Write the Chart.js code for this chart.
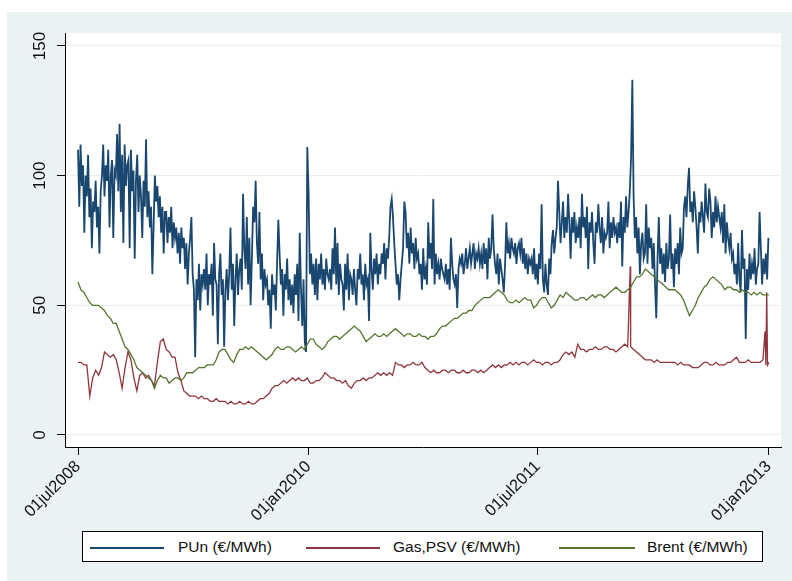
<!DOCTYPE html>
<html>
<head>
<meta charset="utf-8">
<script src="https://cdn.jsdelivr.net/npm/chart.js@4.4.1/dist/chart.umd.min.js"></script>
<style>
  html, body { margin: 0; padding: 0; background: #fff; }
  #wrap { position: relative; width: 792px; height: 581px; overflow: hidden; }
  #chart { position: absolute; left: 0; top: 0; }
  #legend { position: absolute; left: 82px; top: 531px; width: 681px; height: 31px; box-sizing: border-box;
            border: 1px solid #000; background: #fff; font-family: "Liberation Sans", Arial, sans-serif;
            font-size: 15.5px; color: #111; }
  .key { position: absolute; top: 15px; height: 1.5px; }
  .lab { position: absolute; top: 6px; line-height: 18px; white-space: nowrap; }
</style>
</head>
<body>
<div id="wrap">
  <canvas id="chart" width="792" height="581"></canvas>
  <div id="legend">
    <div class="key" style="left:7px;width:74px;background:#1a476f"></div>
    <div class="lab" style="left:95px">PUn (€/MWh)</div>
    <div class="key" style="left:223px;width:74px;background:#90353b"></div>
    <div class="lab" style="left:310px">Gas,PSV (€/MWh)</div>
    <div class="key" style="left:476px;width:76px;background:#55752f"></div>
    <div class="lab" style="left:564px">Brent (€/MWh)</div>
  </div>
</div>
<script>
// x = days since 01jul2008
const xTickDays = [0, 549, 1095, 1645];
const xTickLabels = ['01jul2008', '01jan2010', '01jul2011', '01jan2013'];
const yTicks = [0, 50, 100, 150];

// PUn, one value every 3 days
const punStep = 3;
const pun = [
  110, 88, 112, 96, 104, 78, 100, 92, 108, 84,
  95, 72, 90, 86, 98, 80, 88, 70, 94, 100,
  112, 92, 104, 98, 110, 80, 100, 106, 76, 102,
  100, 116, 94, 120, 86, 108, 74, 112, 96, 104,
  106, 72, 110, 94, 102, 68, 98, 108, 86, 100,
  92, 76, 98, 88, 114, 84, 94, 80, 88, 62,
  80, 100, 90, 96, 84, 92, 78, 88, 70, 86,
  86, 74, 84, 78, 88, 72, 82, 76, 80, 70,
  78, 66, 80, 72, 76, 64, 74, 58, 70, 76,
  84, 62, 56, 30, 60, 52, 66, 48, 62, 58,
  64, 56, 70, 50, 62, 58, 66, 46, 74, 60,
  58, 35, 62, 70, 54, 60, 34, 56, 64, 52,
  62, 80, 56, 66, 42, 60, 70, 54, 64, 68,
  56, 93, 72, 64, 84, 58, 76, 50, 68, 88,
  82, 98, 74, 66, 86, 60, 70, 52, 64, 58,
  60, 50, 56, 41, 62, 54, 58, 48, 66, 83,
  70, 58, 64, 46, 62, 56, 68, 52, 60, 50,
  58, 47, 62, 54, 66, 44, 78, 56, 42, 60,
  36, 32, 111, 94, 62, 70, 58, 66, 54, 68,
  52, 66, 60, 70, 58, 64, 56, 68, 62, 60,
  64, 56, 72, 62, 80, 58, 74, 54, 66, 60,
  58, 48, 66, 56, 70, 52, 62, 60, 54, 64,
  56, 50, 64, 60, 70, 58, 62, 52, 66, 58,
  60, 44, 78, 64, 56, 68, 62, 70, 58, 66,
  62, 70, 66, 74, 60, 72, 68, 76, 88, 91,
  84, 74, 66, 58, 62, 52, 60, 66, 72, 90,
  86, 72, 78, 66, 80, 70, 74, 64, 76, 68,
  70, 62, 66, 56, 72, 60, 64, 58, 82, 68,
  74, 64, 91, 58, 70, 62, 66, 60, 68, 64,
  62, 60, 66, 58, 64, 56, 76, 66, 60, 58,
  62, 49, 64, 68, 66, 70, 62, 66, 72, 64,
  68, 72, 66, 70, 74, 64, 70, 68, 72, 66,
  70, 64, 74, 66, 72, 60, 76, 68, 72, 85,
  72, 66, 62, 70, 58, 68, 64, 60, 55, 66,
  82, 70, 74, 68, 76, 72, 70, 74, 66, 72,
  74, 70, 76, 66, 72, 64, 70, 62, 68, 66,
  68, 62, 72, 60, 66, 58, 70, 64, 89, 60,
  55, 66, 58, 54, 68, 62, 74, 79, 70, 76,
  80, 98, 86, 74, 82, 90, 76, 84, 78, 93,
  82, 68, 84, 78, 86, 74, 80, 76, 84, 72,
  93, 80, 84, 76, 88, 64, 82, 78, 86, 74,
  66, 82, 78, 89, 80, 74, 84, 70, 78, 76,
  78, 90, 72, 82, 76, 84, 78, 80, 74, 82,
  76, 90, 65, 84, 78, 92, 80, 86, 94, 107,
  137, 92, 76, 84, 70, 80, 62, 74, 78, 68,
  70, 89, 66, 80, 72, 76, 64, 74, 58, 45,
  68, 84, 66, 72, 62, 70, 59, 74, 64, 68,
  85, 64, 70, 57, 72, 66, 74, 62, 80, 70,
  72, 88, 92, 84, 96, 103, 86, 90, 82, 94,
  88, 80, 70, 86, 82, 90, 84, 78, 97, 86,
  84, 95, 90, 76, 86, 80, 92, 82, 88, 84,
  80, 86, 74, 89, 70, 82, 76, 72, 78, 68,
  70, 62, 66, 58, 74, 60, 55, 79, 64, 68,
  37, 64, 56, 70, 60, 66, 62, 72, 58, 64,
  66, 86, 72, 58, 68, 62, 70, 60, 76
];

// gas and brent, one value a week
const weekStep = 7;
const gas = [
  28, 28, 27, 27, 15, 22, 25, 23, 26, 32,
  31, 30, 31, 29, 24, 18, 26, 32, 29, 22,
  17, 23, 24, 22, 23, 21, 19, 28, 36, 37,
  33, 32, 30, 30, 24, 21, 17, 16, 15, 15,
  15, 14, 15, 14, 14, 13, 13, 14, 13, 13,
  13, 12, 13, 12, 12, 13, 12, 12, 13, 12,
  12, 13, 14, 14, 15, 16, 18, 19, 19, 20,
  21, 20, 21, 22, 21, 22, 21, 21, 22, 20,
  20, 21, 21, 22, 24, 23, 22, 22, 21, 21,
  20, 21, 19, 18, 20, 21, 21, 22, 21, 22,
  22, 23, 24, 23, 24, 23, 24, 23, 28, 27,
  27, 26, 27, 27, 28, 27, 27, 28, 26, 25,
  24, 25, 24, 24, 25, 25, 24, 25, 25, 24,
  24, 25, 24, 24, 25, 25, 24, 25, 24, 25,
  26, 27, 26, 27, 26, 27, 27, 28, 27, 28,
  27, 28, 28, 27, 28, 29, 28, 28, 27, 28,
  28, 27, 28, 28, 29, 31, 32, 31, 32, 30,
  35, 33, 33, 32, 33, 33, 34, 33, 33, 34,
  34, 33, 33, 32, 33, 34, 35, 34, 34, 33,
  32, 31, 30, 29, 29, 29, 28, 29, 28, 28,
  28, 28, 28, 28, 27, 28, 27, 27, 27, 26,
  26, 26, 27, 28, 28, 27, 27, 28, 27, 27,
  27, 28, 28, 29, 30, 28, 28, 28, 29, 28,
  28, 28, 28, 29, 27, 28
];
// single-day gas jumps: [day, value]
const gasSpikes = [[1315, 65], [1636, 40], [1638, 27], [1640, 55], [1642, 27]];

const brent = [
  59, 56, 55, 53, 51, 50, 50, 50, 49, 48,
  46, 45, 43, 43, 40, 37, 34, 33, 31, 29,
  26, 25, 24, 23, 22, 21, 18, 21, 23, 22,
  22, 20, 21, 22, 22, 21, 22, 24, 24, 24,
  25, 26, 26, 26, 27, 27, 27, 29, 32, 33,
  33, 31, 29, 28, 31, 33, 33, 34, 33, 34,
  33, 32, 31, 30, 29, 30, 31, 33, 34, 33,
  33, 34, 34, 33, 32, 33, 34, 33, 35, 37,
  37, 35, 34, 33, 34, 36, 37, 38, 38, 37,
  38, 39, 40, 41, 42, 41, 40, 38, 36, 37,
  38, 39, 38, 38, 39, 38, 39, 40, 41, 40,
  39, 38, 39, 39, 38, 38, 39, 38, 38, 37,
  38, 38, 39, 41, 42, 42, 43, 44, 45, 45,
  46, 47, 47, 48, 48, 50, 51, 52, 53, 53,
  53, 54, 55, 56, 55, 54, 52, 51, 51, 52,
  51, 52, 53, 52, 52, 49, 50, 52, 53, 53,
  51, 49, 50, 52, 54, 53, 55, 54, 53, 52,
  52, 53, 53, 52, 53, 54, 53, 54, 54, 53,
  54, 55, 56, 57, 56, 55, 55, 56, 57, 59,
  61, 61, 62, 64, 63, 62, 61, 60, 59, 58,
  57, 56, 56, 56, 55, 54, 52, 49, 46, 48,
  50, 53, 55, 57, 58, 60, 61, 60, 59, 58,
  56, 57, 57, 56, 56, 55, 56, 55, 55, 54,
  55, 54, 55, 54, 54, 54
];

const punPoints = pun.map((v, i) => ({ x: i * punStep, y: v }));
const gasPoints = gas.map((v, i) => ({ x: i * weekStep, y: v }))
  .concat(gasSpikes.map(s => ({ x: s[0], y: s[1] })))
  .sort((a, b) => a.x - b.x);
const brentPoints = brent.map((v, i) => ({ x: i * weekStep, y: v }));

const FONT = '"Liberation Sans", Arial, sans-serif';

// stata-like backgrounds
const backdrop = {
  id: 'backdrop',
  beforeDraw(chart) {
    const { ctx, chartArea: a } = chart;
    ctx.save();
    ctx.fillStyle = '#ffffff';
    ctx.fillRect(0, 0, chart.width, chart.height);
    ctx.fillStyle = '#eaf2f3';
    ctx.fillRect(7, 12, chart.width - 7, chart.height - 12);
    ctx.fillStyle = '#ffffff';
    ctx.fillRect(a.left, a.top, a.right - a.left, a.bottom - a.top);
    ctx.restore();
  }
};

// vertical y tick labels
const yLabels = {
  id: 'yLabels',
  afterDraw(chart) {
    const { ctx } = chart;
    const y = chart.scales.y;
    ctx.save();
    ctx.fillStyle = '#111';
    ctx.font = '17px ' + FONT;
    ctx.textAlign = 'center';
    ctx.textBaseline = 'middle';
    yTicks.forEach(v => {
      ctx.save();
      ctx.translate(40, y.getPixelForValue(v));
      ctx.rotate(-Math.PI / 2);
      ctx.fillText(String(v), 0, 0);
      ctx.restore();
    });
    ctx.restore();
  }
};

new Chart(document.getElementById('chart'), {
  type: 'line',
  data: {
    datasets: [
      { label: 'PUn (€/MWh)', data: punPoints, borderColor: '#1a476f', borderWidth: 1.8, order: 3 },
      { label: 'Gas,PSV (€/MWh)', data: gasPoints, borderColor: '#90353b', borderWidth: 1.3, order: 2 },
      { label: 'Brent (€/MWh)', data: brentPoints, borderColor: '#55752f', borderWidth: 1.3, order: 1 }
    ]
  },
  options: {
    responsive: false,
    animation: false,
    parsing: false,
    layout: { padding: { left: 0, top: 33, right: 11, bottom: 0 } },
    elements: { point: { radius: 0 }, line: { tension: 0 } },
    plugins: { legend: { display: false }, tooltip: { enabled: false } },
    scales: {
      x: {
        type: 'linear',
        min: -31,
        max: 1674,
        afterBuildTicks: s => { s.ticks = xTickDays.map(v => ({ value: v })); },
        afterFit: s => { s.height = 134; },
        grid: { drawOnChartArea: false, drawTicks: true, tickLength: 8, tickColor: '#000', tickWidth: 1 },
        border: { display: true, color: '#000', width: 1 },
        ticks: {
          minRotation: 45,
          maxRotation: 45,
          padding: 2,
          color: '#111',
          font: { family: FONT, size: 16.5 },
          callback: v => { const i = xTickDays.indexOf(v); return i >= 0 ? xTickLabels[i] : ''; }
        }
      },
      y: {
        type: 'linear',
        min: -4.63,
        max: 155,
        afterBuildTicks: s => { s.ticks = yTicks.map(v => ({ value: v })); },
        afterFit: s => { s.width = 65; },
        grid: { color: '#e6eff1', lineWidth: 1, tickLength: 8, tickColor: '#000', tickWidth: 1 },
        border: { display: true, color: '#000', width: 1 },
        ticks: { display: false }
      }
    }
  },
  plugins: [backdrop, yLabels]
});
</script>
</body>
</html>
